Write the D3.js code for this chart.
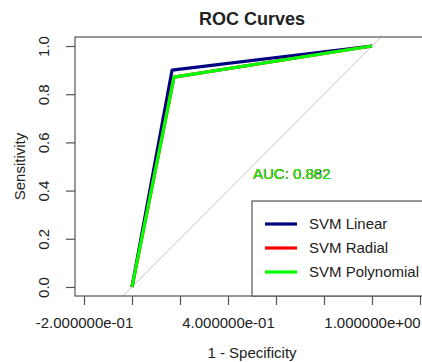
<!DOCTYPE html>
<meta charset="utf-8">
<style>
  body { margin: 0; background: #fff; }
  text { font-family: "Liberation Sans", Arial, sans-serif; fill: #222; }
</style>
<body>
<svg id="roc" width="422" height="362"></svg>
</body>
<script src="https://d3js.org/d3.v7.min.js"></script>
<script>

// data
var seriesNames = ["SVM Linear", "SVM Radial", "SVM Polynomial"];
var seriesColors = ["#000080", "#ff0000", "#00ff00"];
var linearFpr = [0, 0.167, 1];
var linearTpr = [0, 0.9, 1];
var radialFpr = [0, 0.175, 1];
var radialTpr = [0, 0.871, 1];
var polyFpr = [0, 0.175, 1];
var polyTpr = [0, 0.871, 1];
var aucLabels = ["AUC: 0.882", "AUC: 0.862", "AUC: 0.862"];
var xTicks = [-0.2, 0, 0.2, 0.4, 0.6, 0.8, 1.0, 1.2];
var xTickLabels = ["-2.000000e-01", "", "", "4.000000e-01", "", "", "1.000000e+00", ""];
var yTicks = [0, 0.2, 0.4, 0.6, 0.8, 1.0];
var yTickLabels = ["0.0", "0.2", "0.4", "0.6", "0.8", "1.0"];

var svg = d3.select("#roc"),
    box = {left: 75, top: 37, right: 429, bottom: 296};

var x = d3.scaleLinear().domain([-0.2375, 1.2375]).range([box.left, box.right]);
var y = d3.scaleLinear().domain([-0.0375, 1.0375]).range([box.bottom, box.top]);

svg.append("clipPath").attr("id", "plotclip")
  .append("rect")
    .attr("x", box.left).attr("y", box.top)
    .attr("width", box.right - box.left).attr("height", box.bottom - box.top);

var plot = svg.append("g").attr("clip-path", "url(#plotclip)");

// chance diagonal
plot.append("line")
    .attr("x1", x(-0.1)).attr("y1", y(-0.1))
    .attr("x2", x(1.1)).attr("y2", y(1.1))
    .attr("stroke", "#c8c8c8")
    .attr("stroke-width", 1);

var series = [
  {fpr: linearFpr, tpr: linearTpr},
  {fpr: radialFpr, tpr: radialTpr},
  {fpr: polyFpr, tpr: polyTpr}
];

var line = d3.line()
    .x(function(d) { return x(d[0]); })
    .y(function(d) { return y(d[1]); });

series.forEach(function(s, i) {
  plot.append("path")
      .datum(d3.zip(s.fpr, s.tpr))
      .attr("fill", "none")
      .attr("stroke", seriesColors[i])
      .attr("stroke-width", 3.2)
      .attr("stroke-linejoin", "round")
      .attr("d", line);
});

// AUC labels, all printed at the same spot
aucLabels.forEach(function(t, i) {
  svg.append("text")
      .attr("x", 253).attr("y", 179)
      .style("font-size", "15px")
      .style("fill", seriesColors[i])
      .text(t);
});

// plot frame
svg.append("rect")
    .attr("x", box.left).attr("y", box.top)
    .attr("width", box.right - box.left).attr("height", box.bottom - box.top)
    .attr("fill", "none")
    .attr("stroke", "#555")
    .attr("stroke-width", 1.2);

// x axis
var xAxis = svg.append("g")
    .attr("transform", "translate(0," + box.bottom + ")")
    .call(d3.axisBottom(x).tickValues(xTicks).tickSize(9).tickPadding(12)
      .tickFormat(function(d, i) { return xTickLabels[i]; }));
xAxis.select(".domain").remove();
xAxis.selectAll("line").attr("stroke", "#555").attr("stroke-width", 1.2);
xAxis.selectAll("text").style("font-size", "15px").attr("fill", "#222");

// y axis
var yAxis = svg.append("g")
    .attr("transform", "translate(" + box.left + ",0)")
    .call(d3.axisLeft(y).tickValues(yTicks).tickSize(9)
      .tickFormat(function(d, i) { return yTickLabels[i]; }));
yAxis.select(".domain").remove();
yAxis.selectAll("line").attr("stroke", "#555").attr("stroke-width", 1.2);
yAxis.selectAll("text")
    .style("font-size", "15px")
    .attr("fill", "#222")
    .attr("x", null).attr("dy", null)
    .attr("text-anchor", "middle")
    .attr("transform", "translate(-26,0) rotate(-90)");

// titles
svg.append("text")
    .attr("x", (box.left + box.right) / 2).attr("y", 25)
    .attr("text-anchor", "middle")
    .style("font-size", "18px").style("font-weight", "bold")
    .text("ROC Curves");

svg.append("text")
    .attr("x", (box.left + box.right) / 2).attr("y", 358)
    .attr("text-anchor", "middle")
    .style("font-size", "15px")
    .text("1 - Specificity");

svg.append("text")
    .attr("transform", "translate(25," + (box.top + box.bottom) / 2 + ") rotate(-90)")
    .attr("text-anchor", "middle")
    .style("font-size", "15px")
    .text("Sensitivity");

// legend, bottom right of the plot
var lg = svg.append("g");
lg.append("rect")
    .attr("x", 252).attr("y", 201)
    .attr("width", box.right - 252).attr("height", box.bottom - 201)
    .attr("fill", "#fff")
    .attr("stroke", "#555")
    .attr("stroke-width", 1.2);

var items = lg.selectAll(".item")
    .data(seriesNames)
    .enter().append("g")
    .attr("transform", function(d, i) { return "translate(0," + (224 + i * 24) + ")"; });

items.append("line")
    .attr("x1", 265).attr("x2", 297)
    .attr("stroke", function(d, i) { return seriesColors[i]; })
    .attr("stroke-width", 3.2);

items.append("text")
    .attr("x", 309).attr("y", 5)
    .style("font-size", "15px")
    .text(function(d) { return d; });

</script>
